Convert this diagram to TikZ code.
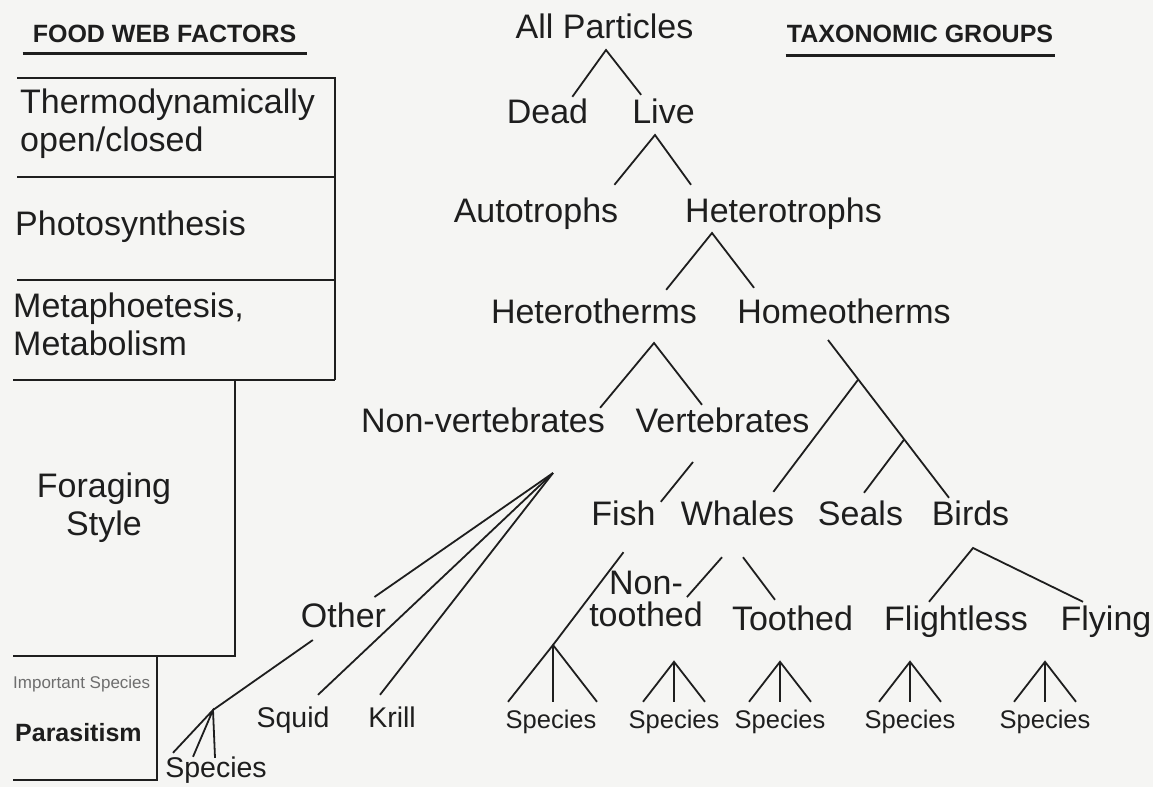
\documentclass[tikz,border=0pt]{standalone}
\usepackage{fontspec}
\setmainfont{Liberation Sans}
\usetikzlibrary{calc}
\definecolor{ink}{HTML}{1E1E1E}
\definecolor{paper}{HTML}{F5F5F3}
\definecolor{faint}{HTML}{6E6E6E}
\tikzset{
  % group names of the tree and of the boxes
  grp/.style={font=\fontsize{34}{38}\selectfont, text=ink, inner sep=0pt, anchor=base,
    text height=24pt, text depth=7pt},
  grpml/.style={font=\fontsize{34}{38}\selectfont, text=ink, inner sep=0pt, align=left},
  % small "Species" labels
  spc/.style={font=\fontsize{25.5}{30}\selectfont, text=ink, inner sep=0pt, anchor=base,
    text height=18pt, text depth=5pt},
  spcbig/.style={spc, font=\fontsize{28.5}{32}\selectfont, text height=20pt},
  % headings
  hdr/.style={font=\bfseries\fontsize{25}{30}\selectfont, text=ink, inner sep=0pt, anchor=base},
  % lines
  link/.style={draw=ink, line width=1.8pt},
  rule/.style={draw=ink, line width=3pt},
  boxline/.style={draw=ink, line width=2pt},
}

\begin{document}
\begin{tikzpicture}[x=1pt, y=-1pt]
  \useasboundingbox (0,0) rectangle (1153,787);
  \fill[paper] (0,0) rectangle (1153,787);
  % headings
  \node[hdr] (hdFood) at (164.5,42) {FOOD WEB FACTORS};
  \node[hdr] (hdTaxa) at (920,42) {TAXONOMIC GROUPS};
  \draw[rule] ([shift={(-10,11)}]hdFood.south west) -- ([shift={(11,11)}]hdFood.south east);
  \draw[rule] ([shift={(-1,13)}]hdTaxa.south west) -- ([shift={(2,13)}]hdTaxa.south east);
  % food web factors, boxes open on the left
  \draw[boxline] (17,78) -- (335,78) -- (335,380);
  \draw[boxline] (17,177) -- (335,177);
  \draw[boxline] (17,280) -- (335,280);
  \draw[boxline] (13,380) -- (335,380);
  \draw[boxline] (235,380) -- (235,656) -- (13,656);
  \draw[boxline] (157,656) -- (157,780) -- (13,780);
  \node[grpml, anchor=north west] (thermo) at (20,89) {Thermodynamically\\open/closed};
  \node[grp, anchor=base west] (photo) at (15,235) {Photosynthesis};
  \node[grpml, anchor=north west] (meta) at (13,293) {Metaphoetesis,\\Metabolism};
  \node[grpml, align=center, anchor=north] (forage) at (104,473) {Foraging\\Style};
  \node[font=\fontsize{17}{20}\selectfont, text=faint, inner sep=0pt, anchor=base west] (impsp) at (13,688) {Important Species};
  \node[font=\bfseries\fontsize{25}{30}\selectfont, text=ink, inner sep=0pt, anchor=base west] (para) at (15,741) {Parasitism};
  % taxonomic tree
  \node[grp] (allp) at (604.5,38) {All Particles};
  \node[grp] (dead) at (547.5,123) {Dead};
  \node[grp] (live) at (663.5,123) {Live};
  \node[grp] (auto) at (536,222) {Autotrophs};
  \node[grp] (hetr) at (783.5,222) {Heterotrophs};
  \node[grp] (htherm) at (594,323) {Heterotherms};
  \node[grp] (homeo) at (844,323) {Homeotherms};
  \node[grp] (nonvert) at (483,432) {Non-vertebrates};
  \node[grp] (vert) at (722.5,432) {Vertebrates};
  \node[grp] (fish) at (623.5,525) {Fish};
  \node[grp] (whales) at (737.5,525) {Whales};
  \node[grp] (seals) at (860.5,525) {Seals};
  \node[grp] (birds) at (970.5,525) {Birds};
  \node[grpml, align=center, font=\fontsize{34}{32}\selectfont, anchor=north] (nontooth) at (646,571) {Non-\\toothed};
  \node[grp] (toothed) at (792.5,630) {Toothed};
  \node[grp] (flightless) at (956,630) {Flightless};
  \node[grp] (flying) at (1106,630) {Flying};
  \node[grp, outer sep=6pt] (other) at (343.5,627) {Other};
  \node[spcbig] (squid) at (293,727) {Squid};
  \node[spcbig] (krill) at (392,727) {Krill};
  \node[spcbig] (spPara) at (216,777) {Species};
  \node[spc] (spFish) at (551,728) {Species};
  \node[spc] (spNT) at (674,728) {Species};
  \node[spc] (spT) at (780,728) {Species};
  \node[spc] (spFl) at (910,728) {Species};
  \node[spc] (spFy) at (1045,728) {Species};
  % branch points
  \coordinate (jAll) at (606,50);
  \coordinate (jLive) at (655,135);
  \coordinate (jHetr) at (712,233);
  \coordinate (jTherm) at (654,343);
  \coordinate (jVert) at (693,462);
  \coordinate (jHomeo) at (828,340);
  \coordinate (jBirds) at (973,548);
  \coordinate (jFan) at (553,473);
  \coordinate (jPara) at (213,710);
  \coordinate (jFish) at (553,645);
  % branches
  \draw[link] ([shift={(-16,-2)}]dead.north east) -- (jAll) -- ([shift={(9,-4)}]live.north west);
  \draw[link] ([shift={(-4,-13)}]auto.north east) -- (jLive) -- ([shift={(6,-13)}]hetr.north west);
  \draw[link] ([shift={(-31,-9)}]htherm.north east) -- (jHetr) -- ([shift={(17,-11)}]homeo.north west);
  \draw[link] ([shift={(-5,0)}]nonvert.north east) -- (jTherm) -- ([shift={(-20.5,-3)}]vert.north);
  \draw[link] (jVert) -- ([shift={(5,1)}]fish.north east);
  \coordinate (eBirds) at ([shift={(-21.5,-3)}]birds.north);
  \draw[link] (jHomeo) -- (eBirds);
  \draw[link] ($(jHomeo)!0.25!(eBirds)$) -- ([shift={(-21,-9)}]whales.north east);
  \draw[link] ($(jHomeo)!0.63!(eBirds)$) -- ([shift={(3.5,-8)}]seals.north);
  \draw[link] ([shift={(-15.5,25)}]whales.south) -- ([shift={(-16,-2)}]nontooth.east);
  \draw[link] ([shift={(5.5,25)}]whales.south) -- ([shift={(-17.5,-6)}]toothed.north);
  \draw[link] ([shift={(-27,-4)}]flightless.north) -- (jBirds) -- ([shift={(-23,-4)}]flying.north);
  \draw[link] ([shift={(0,20)}]fish.south) -- (jFish);
  % species fans
  \draw[link] ([shift={(-43,-8)}]spFish.north) -- (jFish) -- ([shift={(46,-8)}]spFish.north)
    (jFish) -- ([shift={(2,-8)}]spFish.north);
  \foreach \s in {spNT,spT,spFl,spFy}
    \draw[link] ([shift={(-31,-8)}]\s.north) -- ([shift={(0,-48)}]\s.north) -- ([shift={(31,-8)}]\s.north)
      ([shift={(0,-48)}]\s.north) -- ([shift={(0,-8)}]\s.north);
  % non-vertebrate fan
  \draw[link] (jFan) -- (other) -- (jPara);
  \draw[link] (jFan) -- ([shift={(25,-12)}]squid.north);
  \draw[link] (jFan) -- ([shift={(-12,-12)}]krill.north);
  \draw[link] ([shift={(-43,-4)}]spPara.north) -- (jPara) -- ([shift={(-1,1)}]spPara.north)
    (jPara) -- ([shift={(-23,0)}]spPara.north);
\end{tikzpicture}
\end{document}
